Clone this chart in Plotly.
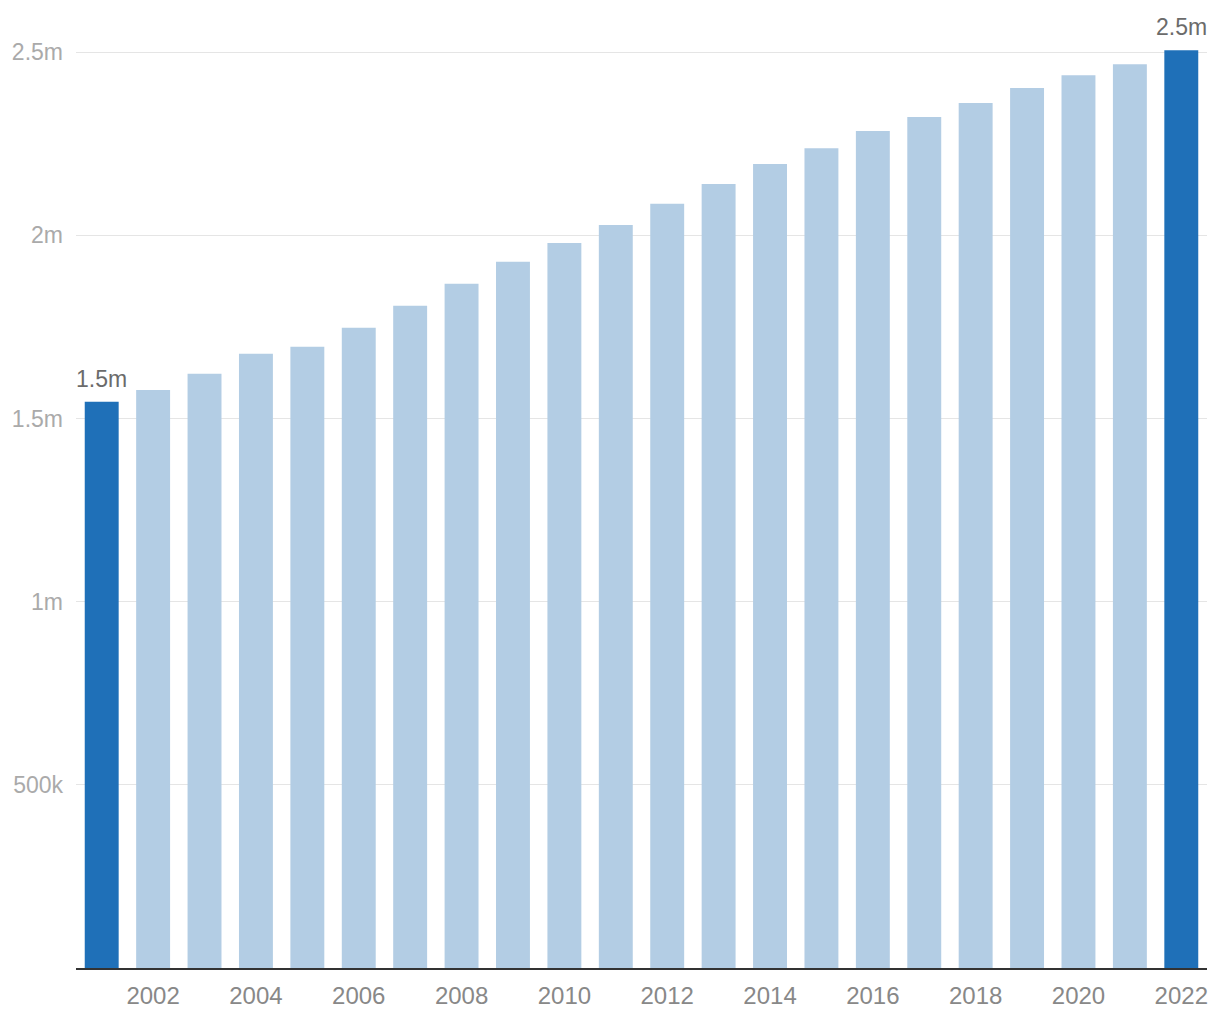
import plotly.graph_objects as go

years = list(range(2001, 2023))
values = [1546000, 1578000, 1622000, 1677000, 1696000, 1748000, 1808000, 1868000,
          1928000, 1979000, 2028000, 2086000, 2140000, 2195000, 2238000, 2285000,
          2323000, 2361000, 2402000, 2437000, 2467000, 2505000]
highlight_years = [2001, 2022]
highlight_labels = ["1.5m", "2.5m"]

ytick_vals = [500000, 1000000, 1500000, 2000000, 2500000]
ytick_text = ["500k", "1m", "1.5m", "2m", "2.5m"]
xtick_vals = list(range(2002, 2023, 2))

DARK = "#1f70b8"
LIGHT = "#b3cde4"
colors = [DARK if y in highlight_years else LIGHT for y in years]

fig = go.Figure(go.Bar(x=years, y=values, marker=dict(color=colors, line=dict(width=0)),
                       cliponaxis=False, hoverinfo="x+y"))

for yr, lab in zip(highlight_years, highlight_labels):
    fig.add_annotation(x=yr, y=values[years.index(yr)], text=lab, showarrow=False,
                       yanchor="bottom", yshift=8,
                       font=dict(family="Liberation Sans, Arial, sans-serif", size=23, color="#6b6b6b"))

fig.update_layout(
    width=1212, height=1012,
    margin=dict(l=68, r=13, t=42, b=52),
    paper_bgcolor="white", plot_bgcolor="white",
    bargap=0.34, showlegend=False,
    font=dict(family="Liberation Sans, Arial, sans-serif"),
)
fig.update_xaxes(
    tickmode="array", tickvals=xtick_vals, ticktext=[str(v) for v in xtick_vals],
    range=[2000.5, 2022.5], automargin=False,
    showline=True, linecolor="#333333", linewidth=2, showgrid=False, ticks="",
    tickfont=dict(size=24, color="#888888"), ticklabelstandoff=5,
)
fig.update_yaxes(
    range=[0, 2506000], tickmode="array", tickvals=ytick_vals, ticktext=ytick_text,
    automargin=False,
    showgrid=True, gridcolor="#e5e5e5", gridwidth=1, zeroline=False, showline=False,
    tickfont=dict(size=23, color="#aaaaaa"), ticklabelstandoff=12, ticks="",
)

fig.write_html("out.html")
